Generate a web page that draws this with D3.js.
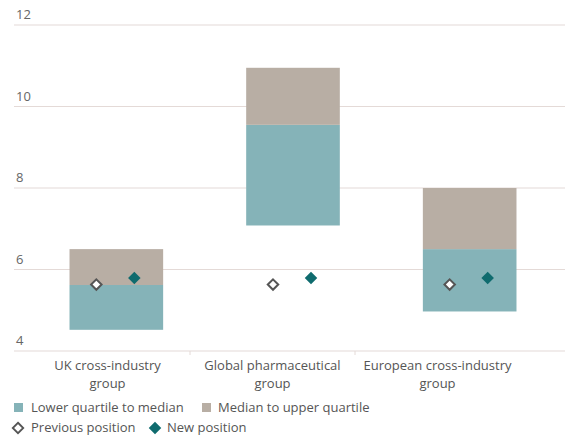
<!DOCTYPE html>
<html>
<head>
<meta charset="utf-8">
<style>
  body { margin: 0; background: #fff; }
  svg { display: block; font-family: "Open Sans", "Noto Sans", sans-serif; }
</style>
</head>
<body>
<svg></svg>
<script src="https://d3js.org/d3.v7.min.js"></script>
<script>
const width = 565;
const height = 438;

const categories = ["UK cross-industry group", "Global pharmaceutical group", "European cross-industry group"];
const lowerQuartile = [4.52, 7.08, 4.97];
const median = [5.62, 9.55, 6.5];
const upperQuartile = [6.5, 10.95, 8.0];
const previousPosition = [5.63, 5.63, 5.63];
const newPosition = [5.79, 5.79, 5.79];
const yTicks = [4, 6, 8, 10, 12];

const colors = {
  lower: "#85b3b8",
  upper: "#b8aea4",
  newPos: "#0f6b6e",
  prevStroke: "#555",
  grid: "#e4dad7",
  text: "#555"
};

const svg = d3.select("svg").attr("width", width).attr("height", height);

const y = d3.scaleLinear().domain([4, 12]).range([351, 25]);
// bars sit on a slightly wider band than the category labels in the original
const xBar = d3.scaleBand().domain(categories).range([28, 558]).paddingInner(0.47).paddingOuter(0.235);
const xLab = d3.scaleBand().domain(categories).range([25, 520]);

// gridlines + y labels
const grid = svg.append("g");
grid.selectAll("line").data(yTicks).enter().append("line")
  .attr("x1", 14).attr("x2", width)
  .attr("y1", d => y(d)).attr("y2", d => y(d))
  .attr("stroke", colors.grid).attr("stroke-width", 1.2);
grid.selectAll("text").data(yTicks).enter().append("text")
  .attr("x", 16).attr("y", d => y(d) - 6)
  .attr("font-size", 13).attr("fill", "#666")
  .text(d => d);

// category axis
const xAxis = svg.append("g")
  .attr("transform", `translate(0,${y(4)})`)
  .call(d3.axisBottom(xLab).tickSize(0).tickFormat(""));
xAxis.select(".domain").remove();
xAxis.selectAll(".sep").data(categories.slice(1)).enter().append("line")
  .attr("x1", d => xLab(d)).attr("x2", d => xLab(d))
  .attr("y1", 0).attr("y2", 4)
  .attr("stroke", colors.grid);

// two-line category labels, one text per line
const labels = svg.append("g").attr("font-size", 13).attr("fill", colors.text).attr("text-anchor", "middle");
categories.forEach(c => {
  const words = c.split(" ");
  const cx = xLab(c) + xLab.bandwidth() / 2;
  labels.append("text").attr("x", cx).attr("y", 370).text(words.slice(0, -1).join(" "));
  labels.append("text").attr("x", cx).attr("y", 388).text(words[words.length - 1]);
});

// bars
const bars = svg.append("g");
bars.selectAll(".lower").data(categories).enter().append("rect")
  .attr("class", "lower")
  .attr("x", d => xBar(d)).attr("width", xBar.bandwidth())
  .attr("y", (d, i) => y(median[i]))
  .attr("height", (d, i) => y(lowerQuartile[i]) - y(median[i]))
  .attr("fill", colors.lower);
bars.selectAll(".upper").data(categories).enter().append("rect")
  .attr("class", "upper")
  .attr("x", d => xBar(d)).attr("width", xBar.bandwidth())
  .attr("y", (d, i) => y(upperQuartile[i]))
  .attr("height", (d, i) => y(median[i]) - y(upperQuartile[i]))
  .attr("fill", colors.upper);

// markers
const diamond = d3.symbol().type(d3.symbolDiamond2);
const markers = svg.append("g");
markers.selectAll(".prev").data(categories).enter().append("path")
  .attr("class", "prev")
  .attr("d", diamond.size(70)())
  .attr("transform", (d, i) => `translate(${xBar(d) + xBar.bandwidth() / 2 - 20},${y(previousPosition[i])})`)
  .attr("fill", "#fff").attr("stroke", colors.prevStroke).attr("stroke-width", 2);
markers.selectAll(".new").data(categories).enter().append("path")
  .attr("class", "new")
  .attr("d", diamond.size(100)())
  .attr("transform", (d, i) => `translate(${xBar(d) + xBar.bandwidth() / 2 + 18},${y(newPosition[i])})`)
  .attr("fill", colors.newPos);

// legend
const legend = svg.append("g").attr("font-size", 13).attr("fill", colors.text);
legend.append("rect").attr("x", 14).attr("y", 403).attr("width", 9).attr("height", 9).attr("fill", colors.lower);
legend.append("text").attr("x", 31).attr("y", 412).text("Lower quartile to median");
legend.append("rect").attr("x", 202).attr("y", 403).attr("width", 9).attr("height", 9).attr("fill", colors.upper);
legend.append("text").attr("x", 218).attr("y", 412).text("Median to upper quartile");
legend.append("path").attr("d", diamond.size(70)())
  .attr("transform", "translate(18,428)")
  .attr("fill", "#fff").attr("stroke", colors.prevStroke).attr("stroke-width", 1.8);
legend.append("text").attr("x", 31).attr("y", 432).text("Previous position");
legend.append("path").attr("d", diamond.size(100)())
  .attr("transform", "translate(155,428)")
  .attr("fill", colors.newPos);
legend.append("text").attr("x", 167).attr("y", 432).text("New position");
</script>
</body>
</html>
